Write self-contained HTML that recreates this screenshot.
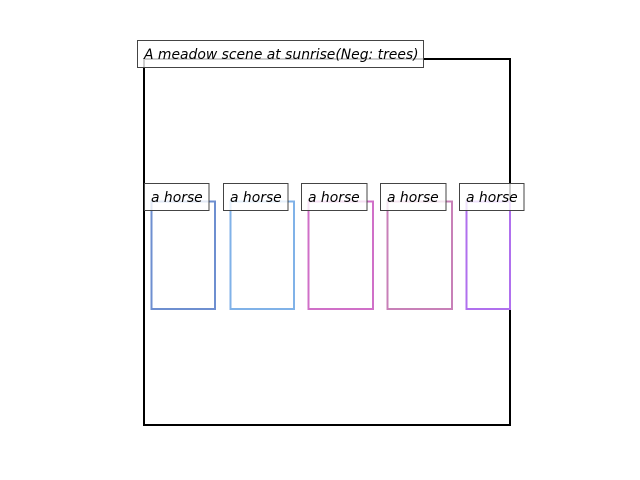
<!DOCTYPE html>
<html><head><style>html,body{margin:0;padding:0;background:#fff}svg{display:block}</style></head>
<body>
<svg width="640" height="480" viewBox="0 0 640 480" xmlns="http://www.w3.org/2000/svg" font-family="DejaVu Sans, sans-serif" font-style="italic" font-size="13.9">
<rect x="144" y="59" width="366" height="366" fill="none" stroke="#000" stroke-width="2"/>
<rect x="151.5" y="201.5" width="63.5" height="107.5" fill="none" stroke="#6e8fd0" stroke-width="2"/>
<rect x="230.5" y="201.5" width="63.5" height="107.5" fill="none" stroke="#80b2e8" stroke-width="2"/>
<rect x="308.5" y="201.5" width="64.5" height="107.5" fill="none" stroke="#d070c8" stroke-width="2"/>
<rect x="387.5" y="201.5" width="64.5" height="107.5" fill="none" stroke="#c880b8" stroke-width="2"/>
<rect x="466.5" y="201.5" width="43.5" height="107.5" fill="none" stroke="#b070ee" stroke-width="2"/>
<g fill="#fff" fill-opacity="0.8" stroke="#444" stroke-width="1">
<rect x="137.5" y="40.5" width="286" height="27"/>
<rect x="144.5" y="183.5" width="64.5" height="27"/>
<rect x="223.5" y="183.5" width="64.5" height="27"/>
<rect x="301.5" y="183.5" width="65.5" height="27"/>
<rect x="380.5" y="183.5" width="65.5" height="27"/>
<rect x="459.5" y="183.5" width="64.5" height="27"/>
</g>
<g fill="#000">
<text x="144" y="59">A meadow scene at sunrise(Neg: trees)</text>
<text x="151" y="202">a horse</text>
<text x="230" y="202">a horse</text>
<text x="308" y="202">a horse</text>
<text x="387" y="202">a horse</text>
<text x="466" y="202">a horse</text>
</g>
</svg>
</body></html>
